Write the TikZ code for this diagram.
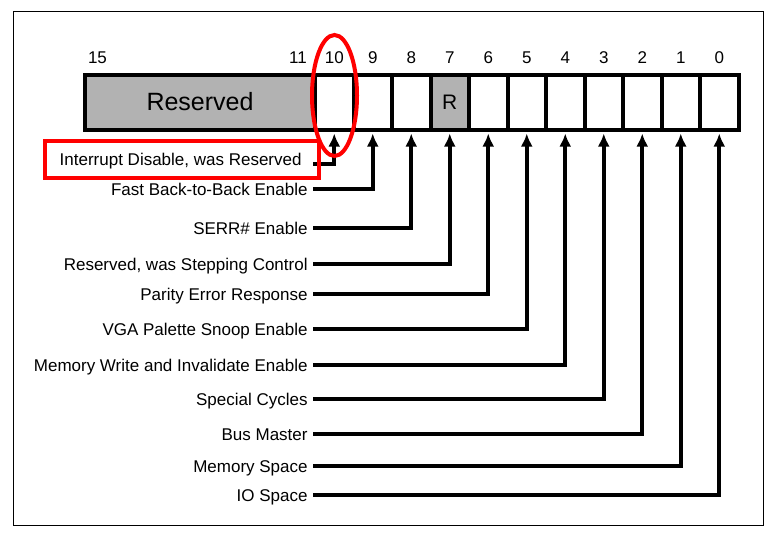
\documentclass[tikz,border=0pt]{standalone}
\usepackage{fontspec}
\setmainfont{Liberation Sans}
\usetikzlibrary{arrows.meta,positioning}

\begin{document}
\begin{tikzpicture}[x=1pt, y=-1pt, thick]

		\tikzstyle{bit}=[rectangle, draw, line width=4pt, outer sep=0pt, inner sep=0pt, minimum width=38.5pt, minimum height=55pt, font=\fontsize{21}{24}\selectfont]
		\tikzstyle{rsv}=[bit, fill=black!30]
		\tikzstyle{num}=[anchor=base, inner sep=0pt, font=\fontsize{17}{20}\selectfont]
		\tikzstyle{lbl}=[anchor=east, inner xsep=5pt, inner ysep=0pt, text height=12pt, text depth=0pt, font=\fontsize{17}{20}\selectfont]
		\tikzstyle{link}=[-{Latex[length=13pt,width=12pt]}, line width=3.6pt, shorten >=4pt]
		\tikzstyle{hilite}=[red, line width=4pt]

		\useasboundingbox (0,0) rectangle (773,536);
		\draw[line width=1pt] (13,11) rectangle (763,525);

		% register cells
		\node[rsv, minimum width=230pt, font=\fontsize{25}{28}\selectfont] (b15) at (200,102) {Reserved};
		\node[bit] (b10) at (334.25,102) {};
		\node[bit] (b9)  at (372.75,102) {};
		\node[bit] (b8)  at (411.25,102) {};
		\node[rsv] (b7)  at (449.75,102) {R};
		\node[bit] (b6)  at (488.25,102) {};
		\node[bit] (b5)  at (526.75,102) {};
		\node[bit] (b4)  at (565.25,102) {};
		\node[bit] (b3)  at (603.75,102) {};
		\node[bit] (b2)  at (642.25,102) {};
		\node[bit] (b1)  at (680.75,102) {};
		\node[bit] (b0)  at (719.25,102) {};

		% bit numbers
		\node[num] (n15) at (97.5,63)   {15};
		\node[num] (n11) at (298,63)    {11};
		\node[num] (n10) at (334.25,63) {10};
		\node[num] (n9)  at (372.75,63) {9};
		\node[num] (n8)  at (411.25,63) {8};
		\node[num] (n7)  at (449.75,63) {7};
		\node[num] (n6)  at (488.25,63) {6};
		\node[num] (n5)  at (526.75,63) {5};
		\node[num] (n4)  at (565.25,63) {4};
		\node[num] (n3)  at (603.75,63) {3};
		\node[num] (n2)  at (642.25,63) {2};
		\node[num] (n1)  at (680.75,63) {1};
		\node[num] (n0)  at (719.25,63) {0};

		% field names
		\node[lbl, inner xsep=11pt, text depth=9pt] (l10) at (313,164) {Interrupt Disable, was Reserved};
		\node[lbl] (l9) at (313,189) {Fast Back-to-Back Enable};
		\node[lbl] (l8) at (313,228) {SERR\# Enable};
		\node[lbl] (l7) at (313,264) {Reserved, was Stepping Control};
		\node[lbl] (l6) at (313,294) {Parity Error Response};
		\node[lbl] (l5) at (313,329) {VGA Palette Snoop Enable};
		\node[lbl] (l4) at (313,365) {Memory Write and Invalidate Enable};
		\node[lbl] (l3) at (313,399) {Special Cycles};
		\node[lbl] (l2) at (313,434) {Bus Master};
		\node[lbl] (l1) at (313,466) {Memory Space};
		\node[lbl] (l0) at (313,495) {IO Space};

		% links to the bits
		\draw[link] (l10.east) -| (b10.south);
		\draw[link] (l9.east) -| (b9.south);
		\draw[link] (l8.east) -| (b8.south);
		\draw[link] (l7.east) -| (b7.south);
		\draw[link] (l6.east) -| (b6.south);
		\draw[link] (l5.east) -| (b5.south);
		\draw[link] (l4.east) -| (b4.south);
		\draw[link] (l3.east) -| (b3.south);
		\draw[link] (l2.east) -| (b2.south);
		\draw[link] (l1.east) -| (b1.south);
		\draw[link] (l0.east) -| (b0.south);

		% red marks
		\draw[hilite] (44.7,140.5) rectangle (319,177.5);
		\draw[hilite] (334.5,95.5) ellipse [x radius=22.5pt, y radius=60.5pt];

\end{tikzpicture}
\end{document}
